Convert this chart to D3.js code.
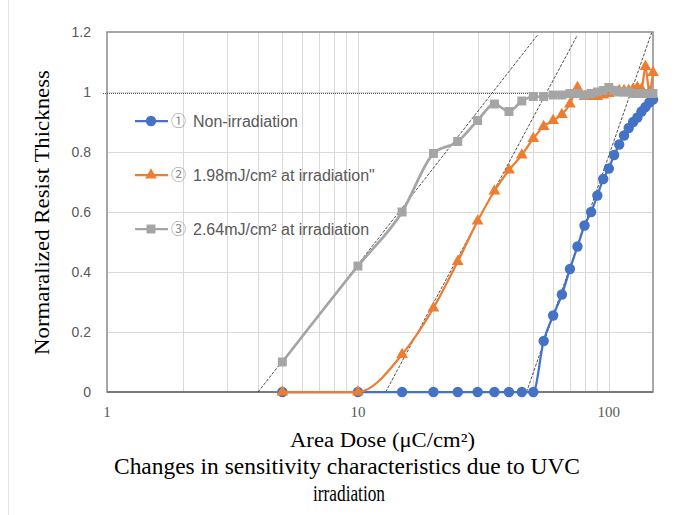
<!DOCTYPE html>
<meta charset="utf-8">
<style>
    body { margin: 0; background: #fff; }
    .grid line { stroke: #d9d9d9; stroke-width: 1; }
    .ytick { font: 14px "Liberation Sans", sans-serif; fill: #595959; }
    .xtick { font: 15px "Liberation Serif", serif; fill: #595959; }
    .title { font-family: "Liberation Serif", "Times New Roman", serif; fill: #000; }
    .leg { font: 16px "Liberation Sans", sans-serif; fill: #595959; }
    .circ { font: 15px "Noto Sans CJK JP", sans-serif; fill: #8a8a8a; }
</style>
<svg width="686" height="515"></svg>
<script src="https://cdn.jsdelivr.net/npm/d3@7"></script>
<script>
    // dose values (uC/cm2)
    var doses = [5, 10, 15, 20, 25, 30, 35, 40, 45, 50, 55, 60, 65, 70, 75, 80, 85, 90, 95, 100, 105, 110, 115, 120, 125, 130, 135, 140, 145, 150];
    // normalized thickness per series
    var nonIrr = [0, 0, 0, 0, 0, 0, 0, 0, 0, 0, 0.17, 0.255, 0.325, 0.41, 0.485, 0.555, 0.6, 0.655, 0.71, 0.745, 0.79, 0.825, 0.855, 0.88, 0.9, 0.915, 0.935, 0.95, 0.965, 0.975];
    var irr198 = [0, 0, 0.125, 0.28, 0.435, 0.57, 0.67, 0.74, 0.79, 0.845, 0.885, 0.905, 0.925, 0.96, 1.015, 0.985, 0.985, 0.985, 0.99, 0.995, 1.0, 1.005, 1.005, 1.005, 1.01, 1.015, 1.01, 1.085, 1.0, 1.065];
    var irr264 = [0.1, 0.42, 0.6, 0.795, 0.835, 0.905, 0.96, 0.935, 0.97, 0.985, 0.985, 0.99, 0.99, 0.995, 0.995, 0.99, 0.995, 1.0, 1.005, 1.015, 1.005, 1.0, 1.0, 1.0, 0.995, 0.995, 0.995, 0.995, 0.995, 0.995];
    var seriesNames = ["Non-irradiation", "1.98mJ/cm\u00b2 at irradiation\"", "2.64mJ/cm\u00b2 at irradiation"];
    var circled = ["\u2460", "\u2461", "\u2462"];
    // dashed tangent lines [dose, thickness] end points
    var tangentGray = [[4.0, 0], [52, 1.19]];
    var tangentOrange = [[12.9, 0], [75, 1.19]];
    var tangentBlue = [[47, 0], [148, 1.197]];
    var refLevel = 0.995;
    var yTicks = [0, 0.2, 0.4, 0.6, 0.8, 1, 1.2];
    var xTicks = [1, 10, 100];
    var xMinor = [2, 3, 4, 5, 6, 7, 8, 9, 20, 30, 40, 50, 60, 70, 80, 90];

    var svg = d3.select("svg");
    var pLeft = 107, pRight = 653, pTop = 32, pBottom = 392;

    var x = d3.scaleLog().domain([1, 150]).range([pLeft, pRight]);
    var y = d3.scaleLinear().domain([0, 1.2]).range([pBottom, pTop]);

    // faint outer chart border
    svg.append("line").attr("x1", 8.5).attr("x2", 8.5).attr("y1", 0).attr("y2", 515)
        .attr("stroke", "#e3e3e3");

    var grid = svg.append("g").attr("class", "grid");
    grid.selectAll(".gy").data(yTicks.slice(1, -1)).enter().append("line")
        .attr("x1", pLeft).attr("x2", pRight)
        .attr("y1", function (d) { return Math.round(y(d)) + 0.5; })
        .attr("y2", function (d) { return Math.round(y(d)) + 0.5; });
    grid.selectAll(".gx").data(xMinor.concat([10, 100])).enter().append("line")
        .attr("y1", pTop).attr("y2", pBottom)
        .attr("x1", function (d) { return Math.round(x(d)) + 0.5; })
        .attr("x2", function (d) { return Math.round(x(d)) + 0.5; });

    // frame
    svg.append("rect").attr("x", pLeft).attr("y", pTop)
        .attr("width", pRight - pLeft).attr("height", pBottom - pTop)
        .attr("fill", "none").attr("stroke", "#8c8c8c").attr("stroke-width", 1.5);
    svg.append("line").attr("x1", pLeft).attr("x2", pRight).attr("y1", pBottom).attr("y2", pBottom)
        .attr("stroke", "#7a7a7a").attr("stroke-width", 2);

    // tick labels
    svg.selectAll(".ytick").data(yTicks).enter().append("text")
        .attr("class", "ytick")
        .attr("x", 91).attr("y", function (d) { return y(d); })
        .attr("dy", "0.35em").attr("text-anchor", "end")
        .text(function (d) { return d; });
    svg.selectAll(".xtick").data(xTicks).enter().append("text")
        .attr("class", "xtick")
        .attr("x", function (d) { return x(d); }).attr("y", 417)
        .attr("text-anchor", "middle")
        .text(function (d) { return d; });

    // reference line at ~1
    svg.append("line")
        .attr("x1", 103).attr("x2", pRight)
        .attr("y1", y(refLevel)).attr("y2", y(refLevel))
        .attr("stroke", "#444").attr("stroke-width", 0.9).attr("stroke-dasharray", "1,1");

    // tangent lines
    var straight = d3.line().x(function (d) { return x(d[0]); }).y(function (d) { return y(d[1]); });
    [tangentGray, tangentOrange, tangentBlue].forEach(function (t) {
        svg.append("path").attr("d", straight(t))
            .attr("fill", "none").attr("stroke", "#222").attr("stroke-width", 0.8)
            .attr("stroke-dasharray", "3,1.5");
    });

    var line = d3.line()
        .x(function (d) { return x(d[0]); })
        .y(function (d) { return y(d[1]); })
        .curve(d3.curveMonotoneX);

    var series = [
        { vals: nonIrr, color: "#4472C4", shape: d3.symbolCircle, size: 85, width: 2.25 },
        { vals: irr198, color: "#ED7D31", shape: d3.symbolTriangle, size: 60, width: 2.25 },
        { vals: irr264, color: "#A5A5A5", shape: d3.symbolSquare, size: 80, width: 2.75 }
    ];

    series.forEach(function (s) {
        var pts = doses.map(function (d, i) { return [d, s.vals[i]]; });
        var g = svg.append("g");
        g.append("path").attr("d", line(pts))
            .attr("fill", "none").attr("stroke", s.color).attr("stroke-width", s.width)
            .attr("stroke-linejoin", "round");
        g.selectAll("path.m").data(pts).enter().append("path")
            .attr("class", "m")
            .attr("d", d3.symbol().type(s.shape).size(s.size))
            .attr("transform", function (d) { return "translate(" + x(d[0]) + "," + y(d[1]) + ")"; })
            .attr("fill", s.color);
    });

    // legend
    var legend = svg.append("g").selectAll("g").data(series).enter().append("g")
        .attr("transform", function (d, i) { return "translate(0," + (121 + i * 54) + ")"; });
    legend.append("line").attr("x1", 135).attr("x2", 168)
        .attr("stroke", function (d) { return d.color; }).attr("stroke-width", 2.25);
    legend.append("path")
        .attr("d", function (d) { return d3.symbol().type(d.shape).size(d.size)(); })
        .attr("transform", "translate(151,0)")
        .attr("fill", function (d) { return d.color; });
    legend.append("text").attr("class", "circ")
        .attr("x", 171).attr("dy", "0.36em")
        .text(function (d, i) { return circled[i]; });
    legend.append("text").attr("class", "leg")
        .attr("x", 193).attr("dy", "0.36em")
        .text(function (d, i) { return seriesNames[i]; });

    // titles
    svg.append("text").attr("class", "title")
        .attr("x", 290).attr("y", 447).attr("font-size", 20)
        .attr("textLength", 185).attr("lengthAdjust", "spacingAndGlyphs")
        .text("Area Dose (\u03bcC/cm\u00b2)");
    svg.append("text").attr("class", "title")
        .attr("x", 114).attr("y", 474).attr("font-size", 22.5)
        .attr("textLength", 466).attr("lengthAdjust", "spacingAndGlyphs")
        .text("Changes in sensitivity characteristics due to UVC");
    svg.append("text").attr("class", "title")
        .attr("x", 313).attr("y", 501).attr("font-size", 22.5)
        .attr("textLength", 72).attr("lengthAdjust", "spacingAndGlyphs")
        .text("irradiation");
    svg.append("text").attr("class", "title")
        .attr("transform", "translate(49,355) rotate(-90)")
        .attr("font-size", 22)
        .attr("textLength", 285).attr("lengthAdjust", "spacingAndGlyphs")
        .text("Normaralized Resist Thickness");
</script>
